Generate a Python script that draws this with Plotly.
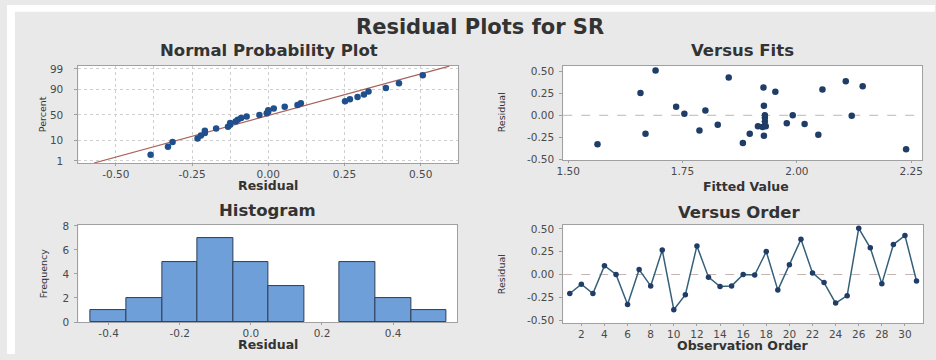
import plotly.graph_objects as go
from statistics import NormalDist, mean, stdev

W, H = 936, 360

# ---------------- data ----------------
obs_order = list(range(1, 32))
residuals = [-0.208, -0.107, -0.208, 0.096, 0.000, -0.329, 0.054, -0.125, 0.268, -0.386,
             -0.221, 0.314, -0.029, -0.132, -0.125, 0.000, -0.005, 0.252, -0.171, 0.107,
             0.386, 0.018, -0.089, -0.314, -0.232, 0.507, 0.293, -0.100, 0.329, 0.429, -0.071]
fitted = [1.669, 1.827, 1.897, 1.736, 1.991, 1.564, 1.800, 1.915, 1.953, 2.239,
          2.047, 1.927, 1.930, 1.925, 1.932, 1.930, 2.120, 1.658, 1.787, 1.928,
          2.107, 1.754, 1.978, 1.882, 1.928, 1.691, 2.056, 2.017, 2.144, 1.851, 1.930]
percent_ticks = [1, 10, 50, 90, 99]
npp_x_ticks = [-0.50, -0.25, 0.00, 0.25, 0.50]
fits_x_ticks = [1.50, 1.75, 2.00, 2.25]
resid_ticks = [-0.50, -0.25, 0.00, 0.25, 0.50]
hist_x_ticks = [-0.4, -0.2, 0.0, 0.2, 0.4]
freq_ticks = [0, 2, 4, 6, 8]
order_ticks = list(range(2, 31, 2))

# ---------------- derived ----------------
nd = NormalDist()
n = len(residuals)
sorted_res = sorted(residuals)
npp_z = [nd.inv_cdf((i - 0.3) / (n + 0.4)) for i in range(1, n + 1)]
mu, sd = mean(residuals), stdev(residuals)
z_rng = [-2.43, 2.47]
line_x = [mu + sd * z for z in z_rng]


def px_x(p):
    return p / W


def px_y(p):
    return 1 - p / H


TXT = "#333333"
TICKC = "#4a4a4a"
FONT = "DejaVu Sans"
AXC = "#a0a0a0"


def axis(domain, rng, tickvals, ticktext=None, standoff=0, ticklen=3, **kw):
    d = dict(domain=domain, range=rng, tickvals=tickvals, showline=True, mirror=True,
             linecolor=AXC, linewidth=1, showgrid=False, zeroline=False,
             ticks="outside", ticklen=ticklen, tickcolor=AXC, ticklabelstandoff=standoff,
             tickfont=dict(family=FONT, size=10.5, color=TICKC), fixedrange=True)
    if ticktext is not None:
        d["ticktext"] = ticktext
    d.update(kw)
    return d


def xaxis(domain, rng, tickvals, ticktext, **kw):
    return axis(domain, rng, tickvals, ticktext, standoff=-1, ticklen=2, **kw)


fig = go.Figure()

# Normal probability plot
fig.add_trace(go.Scatter(x=line_x, y=z_rng, mode="lines", line=dict(color="#a8645c", width=1.2),
                         xaxis="x", yaxis="y", hoverinfo="skip"))
fig.add_trace(go.Scatter(x=sorted_res, y=npp_z, mode="markers",
                         marker=dict(color="#1f4f8c", size=6.5), xaxis="x", yaxis="y"))
# Versus fits
fig.add_trace(go.Scatter(x=fitted, y=residuals, mode="markers",
                         marker=dict(color="#1f3d66", size=6.5), xaxis="x2", yaxis="y2"))
# Histogram
fig.add_trace(go.Histogram(x=residuals, xbins=dict(start=-0.45, end=0.55, size=0.1),
                           marker=dict(color="#6f9fd8", line=dict(color="#2c3e57", width=1)),
                           xaxis="x3", yaxis="y3"))
# Versus order
fig.add_trace(go.Scatter(x=obs_order, y=residuals, mode="lines+markers",
                         line=dict(color="#35607a", width=1.5),
                         marker=dict(color="#1f3d66", size=5.5), xaxis="x4", yaxis="y4"))

fmt2 = lambda v: f"{v:.2f}"
fmt1 = lambda v: f"{v:.1f}"

layout = dict(
    width=W, height=H, margin=dict(l=0, r=0, t=0, b=0),
    paper_bgcolor="#e9e9e9", plot_bgcolor="white", showlegend=False, bargap=0,
    xaxis=xaxis([px_x(72), px_x(455)], [-0.623, 0.623], npp_x_ticks, [fmt2(v) for v in npp_x_ticks],
                anchor="y",
                minor=dict(dtick=0.125, tick0=0, showgrid=True, gridcolor="#cfcfcf", griddash="dot", gridwidth=1)),
    yaxis=axis([px_y(163), px_y(63)], [-2.43, 2.47], [nd.inv_cdf(p / 100) for p in percent_ticks],
               [str(p) for p in percent_ticks], anchor="x", standoff=9,
               showgrid=True, gridcolor="#cfcfcf", griddash="dot"),
    xaxis2=xaxis([px_x(561), px_x(923)], [1.489, 2.274], fits_x_ticks, [fmt2(v) for v in fits_x_ticks],
                 anchor="y2"),
    yaxis2=axis([px_y(160), px_y(63)], [-0.508, 0.558], resid_ticks, [fmt2(v) for v in resid_ticks],
                anchor="x2", standoff=3),
    xaxis3=xaxis([px_x(72), px_x(454)], [-0.485, 0.58], hist_x_ticks, [fmt1(v) for v in hist_x_ticks],
                 anchor="y3"),
    yaxis3=axis([px_y(327), px_y(227)], [0, 8.07], freq_ticks, [str(v) for v in freq_ticks],
                anchor="x3", standoff=3),
    xaxis4=xaxis([px_x(561), px_x(924)], [0.43, 31.57], order_ticks, [str(v) for v in order_ticks],
                 anchor="y4"),
    yaxis4=axis([px_y(328), px_y(227)], [-0.532, 0.543], resid_ticks, [fmt2(v) for v in resid_ticks],
                anchor="x4", standoff=3),
)
fig.update_layout(**layout)

# white strips along the top and left edge, as in the reference screenshot
fig.add_shape(type="rect", xref="paper", yref="paper", x0=0, x1=1, y0=px_y(7), y1=1,
              fillcolor="white", line=dict(width=0), layer="below")
fig.add_shape(type="rect", xref="paper", yref="paper", x0=0, x1=px_x(8), y0=0, y1=1,
              fillcolor="white", line=dict(width=0), layer="below")

# zero reference lines
for xa, ya in (("x2", "y2"), ("x4", "y4")):
    fig.add_shape(type="line", xref=f"{xa} domain", yref=ya, x0=0, x1=1, y0=0, y1=0,
                  line=dict(color="#c9b3b3", width=1, dash="dash"), layer="below")


def label(text, x, y, size, bold=False, angle=0):
    fig.add_annotation(text=text, x=px_x(x), y=px_y(y), xref="paper", yref="paper",
                       showarrow=False, xanchor="center", yanchor="middle", textangle=angle,
                       font=dict(family=FONT, size=size, color=TXT,
                                 weight="bold" if bold else "normal"))


label("Residual Plots for SR", 477, 23, 21, bold=True)
label("Normal Probability Plot", 264, 47, 16.5, bold=True)
label("Versus Fits", 742, 47, 16.5, bold=True)
label("Histogram", 263, 212, 16.5, bold=True)
label("Versus Order", 738, 214, 16.5, bold=True)
label("Residual", 263, 186, 12.5, bold=True)
label("Fitted Value", 745, 187, 12.5, bold=True)
label("Residual", 263, 350, 12.5, bold=True)
label("Observation Order", 742, 351, 12.5, bold=True)
label("Percent", 36, 113, 9.5, angle=-90)
label("Residual", 499, 111, 9.5, angle=-90)
label("Frequency", 37, 277, 9.5, angle=-90)
label("Residual", 499, 278, 9.5, angle=-90)

# the page has no margin so the 936x360 figure fills the window exactly
fig.write_html("out.html", config={"displayModeBar": False},
               post_script="document.body.style.margin='0';"
                           "document.documentElement.style.overflow='hidden';")
